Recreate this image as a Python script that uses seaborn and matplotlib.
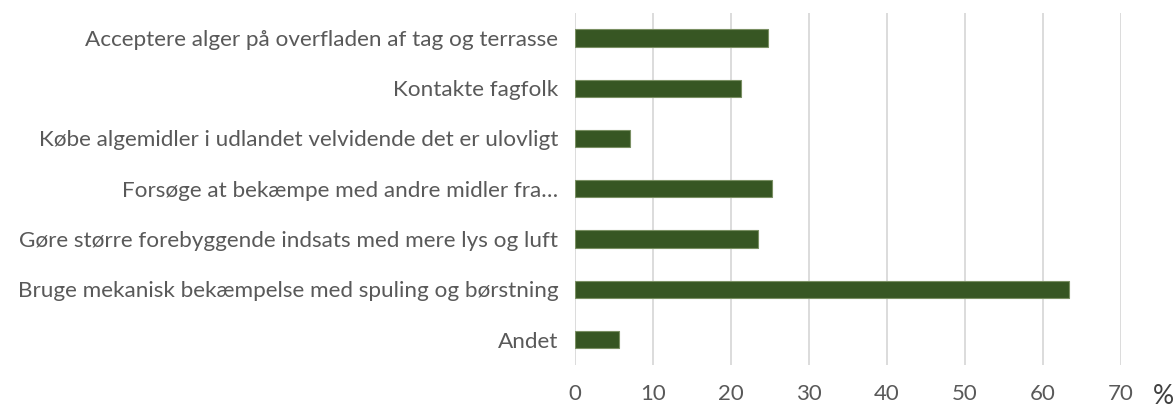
import matplotlib
matplotlib.use("Agg")
import matplotlib.pyplot as plt
import seaborn as sns
import pandas as pd

# svarmuligheder og andel i procent
kategorier = [
    "Acceptere alger på overfladen af tag og terrasse",
    "Kontakte fagfolk",
    "Købe algemidler i udlandet velvidende det er ulovligt",
    "Forsøge at bekæmpe med andre midler fra…",
    "Gøre større forebyggende indsats med mere lys og luft",
    "Bruge mekanisk bekæmpelse med spuling og børstning",
    "Andet",
]
procent = [24.7, 21.3, 7.0, 25.2, 23.4, 63.3, 5.7]
xticks = [0, 10, 20, 30, 40, 50, 60, 70]

df = pd.DataFrame({"kategori": kategorier, "procent": procent})

sns.set_style("white")
plt.rcParams["font.family"] = ["Lato", "DejaVu Sans"]

fig = plt.figure(figsize=(11.74, 4.08), dpi=100)
ax = fig.add_axes([0.4898, 0.1061, 0.9549 - 0.4898, 0.9686 - 0.1061])

sns.barplot(data=df, x="procent", y="kategori", color="#375623", width=0.344,
            edgecolor="#7a8f63", linewidth=0.8, saturation=1, ax=ax)

ax.set_xlim(0, 70)
ax.set_ylim(6.5, -0.5)
ax.set_xticks(xticks)
ax.set_xticklabels([str(t) for t in xticks])
ax.xaxis.grid(True, color="#d9d9d9", linewidth=1.3)
ax.set_axisbelow(True)
for s in ax.spines.values():
    s.set_visible(False)
ax.set_xlabel("")
ax.set_ylabel("")
ax.tick_params(axis="y", length=0, pad=12, labelsize=16.2, labelcolor="#595959")
ax.tick_params(axis="x", length=0, pad=14, labelsize=16, labelcolor="#595959")

fig.text(1163 / 1174, 1 - 397 / 408, "%", fontsize=19, color="#404040",
         ha="center", va="center")

fig.savefig("out.png", dpi=100)
